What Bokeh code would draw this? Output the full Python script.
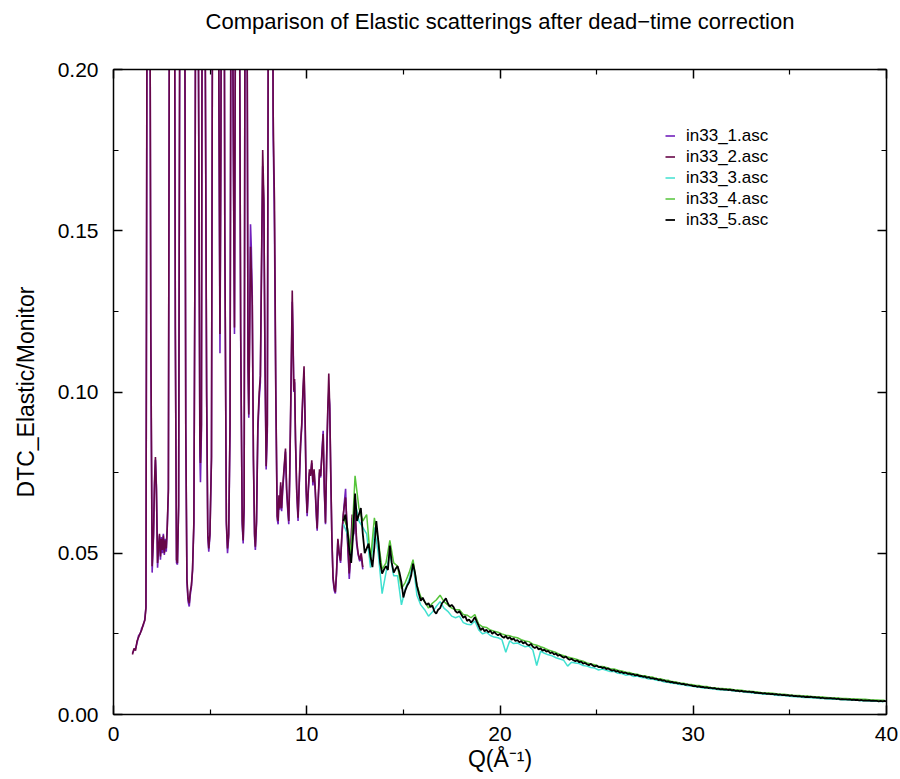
from bokeh.plotting import figure
from bokeh.models import Range1d, LinearAxis, Legend, LegendItem, FixedTicker, PrintfTickFormatter
from bokeh.embed import file_html
from bokeh.resources import INLINE

# ---------------- data ----------------
# low-Q part: in33_1 and in33_2 (nearly identical traces)
q_low = [0.98, 1.06, 1.14, 1.22, 1.30, 1.38, 1.46, 1.54, 1.62, 1.68,
         1.74, 1.80, 1.86, 1.93, 2.00, 2.07, 2.12, 2.17, 2.22, 2.28,
         2.33, 2.38, 2.43, 2.48, 2.53, 2.58, 2.63, 2.68, 2.73, 2.78,
         2.84, 2.90, 3.00, 3.12, 3.20, 3.26, 3.31, 3.37, 3.44, 3.55,
         3.66, 3.74, 3.80, 3.86, 3.92, 3.97, 4.03, 4.09, 4.16, 4.22,
         4.30, 4.40, 4.47, 4.50, 4.55, 4.62, 4.72, 4.82, 4.88, 4.93,
         4.99, 5.07, 5.15, 5.30, 5.45, 5.51, 5.56, 5.65, 5.76, 5.84,
         5.90, 5.96, 6.03, 6.10, 6.20, 6.26, 6.31, 6.42, 6.58, 6.66,
         6.71, 6.76, 6.82, 6.90, 6.96, 7.00, 7.05, 7.09, 7.13, 7.18,
         7.24, 7.30, 7.34, 7.40, 7.47, 7.54, 7.60, 7.66, 7.72, 7.78,
         7.84, 7.90, 7.96, 8.04, 8.12, 8.21, 8.26, 8.30, 8.33, 8.40,
         8.47, 8.52, 8.56, 8.60, 8.65, 8.70, 8.75, 8.82, 8.90, 8.96,
         9.02, 9.07, 9.12, 9.18, 9.25, 9.29, 9.33, 9.37, 9.42, 9.48,
         9.55, 9.60, 9.68, 9.74, 9.80, 9.86, 9.92, 9.97, 10.02, 10.08,
         10.14, 10.20, 10.26, 10.32, 10.38, 10.44, 10.50, 10.54, 10.60, 10.66,
         10.72, 10.78, 10.85, 10.91, 10.97, 11.03, 11.09, 11.14, 11.19, 11.24,
         11.30, 11.36, 11.42, 11.48, 11.54, 11.61, 11.68, 11.75, 11.82, 11.89,
         11.95, 12.01, 12.07, 12.13, 12.20, 12.27, 12.35, 12.42, 12.50, 12.58,
         12.66, 12.74, 12.82, 12.90]

in33_2 = [0.0186, 0.0205, 0.0198, 0.0228, 0.0240, 0.0252, 0.0262, 0.0280, 0.0292, 0.0330,
          0.2500, 0.4500, 0.3000, 0.1200, 0.0460, 0.0560, 0.0720, 0.0798, 0.0700, 0.0470,
          0.0520, 0.0560, 0.0490, 0.0545, 0.0510, 0.0555, 0.0500, 0.0540, 0.0515, 0.0580,
          0.0700, 0.2500, 0.5500, 0.3500, 0.1200, 0.0480, 0.0470, 0.0650, 0.2500, 0.6000,
          0.3000, 0.0900, 0.0420, 0.0360, 0.0345, 0.0380, 0.0400, 0.0450, 0.0600, 0.1500,
          0.4000, 0.2000, 0.0850, 0.0780, 0.0900, 0.3500, 0.2500, 0.1000, 0.0560, 0.0515,
          0.0560, 0.0800, 0.3000, 0.5000, 0.2000, 0.1180, 0.1800, 0.4500, 0.1500, 0.0600,
          0.0515, 0.0560, 0.0900, 0.3000, 0.1800, 0.1200, 0.2200, 0.4000, 0.1200, 0.0600,
          0.0540, 0.0650, 0.2800, 0.2500, 0.1100, 0.0930, 0.1200, 0.1450, 0.1380, 0.1270,
          0.0800, 0.0560, 0.0520, 0.0600, 0.0900, 0.1000, 0.1050, 0.1400, 0.1750, 0.1600,
          0.1100, 0.0770, 0.0900, 0.3000, 0.4500, 0.3000, 0.1880, 0.1700, 0.1590, 0.1000,
          0.0615, 0.0600, 0.0680, 0.0640, 0.0720, 0.0640, 0.0700, 0.0760, 0.0825, 0.0700,
          0.0640, 0.0600, 0.0750, 0.1000, 0.1315, 0.1150, 0.1005, 0.1040, 0.0850, 0.0700,
          0.0610, 0.0700, 0.0840, 0.0900, 0.1000, 0.1080, 0.0900, 0.0700, 0.0625, 0.0700,
          0.0760, 0.0740, 0.0788, 0.0720, 0.0760, 0.0700, 0.0620, 0.0577, 0.0680, 0.0760,
          0.0740, 0.0800, 0.0870, 0.0700, 0.0595, 0.0800, 0.0950, 0.1057, 0.0950, 0.0760,
          0.0550, 0.0425, 0.0394, 0.0380, 0.0440, 0.0545, 0.0500, 0.0477, 0.0560, 0.0620,
          0.0650, 0.0673, 0.0600, 0.0520, 0.0437, 0.0500, 0.0620, 0.0560, 0.0640, 0.0540,
          0.0500, 0.0480, 0.0500, 0.0457]

in33_1 = [0.0190, 0.0200, 0.0205, 0.0222, 0.0245, 0.0250, 0.0268, 0.0276, 0.0295, 0.0335,
          0.2400, 0.4400, 0.3100, 0.1150, 0.0440, 0.0550, 0.0700, 0.0790, 0.0710, 0.0455,
          0.0510, 0.0555, 0.0480, 0.0550, 0.0500, 0.0560, 0.0495, 0.0545, 0.0505, 0.0575,
          0.0690, 0.2450, 0.5400, 0.3450, 0.1180, 0.0470, 0.0465, 0.0640, 0.2450, 0.5900,
          0.2950, 0.0880, 0.0410, 0.0350, 0.0335, 0.0370, 0.0395, 0.0445, 0.0590, 0.1480,
          0.3950, 0.1950, 0.0800, 0.0720, 0.0880, 0.3450, 0.2450, 0.0980, 0.0550, 0.0505,
          0.0555, 0.0790, 0.2950, 0.4900, 0.1950, 0.1120, 0.1750, 0.4400, 0.1480, 0.0590,
          0.0500, 0.0550, 0.0880, 0.2950, 0.1750, 0.1180, 0.2150, 0.3950, 0.1180, 0.0590,
          0.0530, 0.0640, 0.2750, 0.2450, 0.1080, 0.0920, 0.1250, 0.1520, 0.1450, 0.1300,
          0.0790, 0.0550, 0.0510, 0.0590, 0.0880, 0.0980, 0.1030, 0.1380, 0.1700, 0.1580,
          0.1080, 0.0760, 0.0880, 0.2950, 0.4400, 0.2950, 0.1800, 0.1650, 0.1500, 0.0980,
          0.0605, 0.0590, 0.0670, 0.0635, 0.0710, 0.0630, 0.0690, 0.0750, 0.0815, 0.0690,
          0.0630, 0.0590, 0.0740, 0.0980, 0.1280, 0.1180, 0.1000, 0.1030, 0.0840, 0.0690,
          0.0600, 0.0690, 0.0830, 0.0890, 0.0990, 0.1060, 0.0890, 0.0690, 0.0615, 0.0690,
          0.0750, 0.0745, 0.0780, 0.0710, 0.0755, 0.0690, 0.0610, 0.0570, 0.0670, 0.0750,
          0.0735, 0.0810, 0.0880, 0.0690, 0.0590, 0.0790, 0.0940, 0.1000, 0.0960, 0.0750,
          0.0545, 0.0420, 0.0385, 0.0375, 0.0435, 0.0540, 0.0495, 0.0470, 0.0555, 0.0615,
          0.0660, 0.0700, 0.0590, 0.0510, 0.0420, 0.0490, 0.0610, 0.0555, 0.0630, 0.0530,
          0.0495, 0.0475, 0.0490, 0.0450]

# high-Q part: in33_5 sampled every 0.1 from Q = 11.9 to 40.0
q5_start, q5_step = 11.9, 0.1
in33_5 = [0.0600, 0.0620, 0.0575, 0.0510, 0.0470, 0.0560, 0.0685, 0.0600, 0.0620, 0.0640,
          0.0560, 0.0500, 0.0515, 0.0530, 0.0490, 0.0457, 0.0520, 0.0600, 0.0540, 0.0470,
          0.0437, 0.0450, 0.0460, 0.0448, 0.0524, 0.0470, 0.0440, 0.0452, 0.0460, 0.0440,
          0.0410, 0.0363, 0.0385, 0.0400, 0.0410, 0.0430, 0.0468, 0.0440, 0.0400, 0.0375,
          0.0353, 0.0362, 0.0350, 0.0340, 0.0345, 0.0333, 0.0338, 0.0320, 0.0313, 0.0325,
          0.0330, 0.0345, 0.0352, 0.0360, 0.0345, 0.0335, 0.0340, 0.0333, 0.0320, 0.0315,
          0.0320, 0.0310, 0.0300, 0.0305, 0.0290, 0.0295, 0.0285, 0.0292, 0.0302, 0.0288,
          0.0275, 0.0262, 0.0268, 0.0258, 0.0263, 0.0255, 0.0260, 0.0250, 0.0256, 0.0250,
          0.0246, 0.0250, 0.0242, 0.0238, 0.0244, 0.0235, 0.0240, 0.0232, 0.0236, 0.0228,
          0.0231, 0.0224, 0.0228, 0.0220, 0.0225, 0.0217, 0.0214, 0.0219, 0.0210, 0.0206,
          0.0210, 0.0202, 0.0205, 0.0198, 0.0201, 0.0195, 0.0197, 0.0190, 0.0193, 0.0186,
          0.0189, 0.0182, 0.0185, 0.0180, 0.0176, 0.0180, 0.0174, 0.0170, 0.0173, 0.0168,
          0.0165, 0.0168, 0.0162, 0.0164, 0.0158, 0.0160, 0.0156, 0.0153, 0.0157, 0.0152,
          0.0149, 0.0152, 0.0147, 0.0148, 0.0144, 0.0146, 0.0141, 0.0143, 0.0139, 0.0136,
          0.0138, 0.0133, 0.0135, 0.0130, 0.0132, 0.0128, 0.0130, 0.0126, 0.0127, 0.0124,
          0.0125, 0.0121, 0.0123, 0.0119, 0.0120, 0.0117, 0.0118, 0.0114, 0.0116, 0.0112,
          0.0113, 0.0110, 0.0111, 0.0107, 0.0108, 0.0105, 0.0106, 0.0102, 0.0103, 0.0100,
          0.0101, 0.0098, 0.0099, 0.0096, 0.0097, 0.0094, 0.0095, 0.0092, 0.0093, 0.0091,
          0.0090, 0.0088, 0.0089, 0.0086, 0.0087, 0.0085, 0.0086, 0.0083, 0.0084, 0.0082,
          0.0083, 0.0081, 0.0082, 0.0079, 0.0080, 0.0078, 0.0079, 0.0077, 0.0078, 0.0076,
          0.0077, 0.0075, 0.0076, 0.0073, 0.0074, 0.0072, 0.0073, 0.0071, 0.0072, 0.0070,
          0.0071, 0.0069, 0.0070, 0.0067, 0.0068, 0.0066, 0.0067, 0.0065, 0.0066, 0.0064,
          0.0065, 0.0063, 0.0064, 0.0062, 0.0063, 0.0061, 0.0062, 0.0060, 0.0061, 0.0059,
          0.0060, 0.0058, 0.0059, 0.0057, 0.0058, 0.0056, 0.0057, 0.0055, 0.0056, 0.0054,
          0.0055, 0.0054, 0.0055, 0.0053, 0.0054, 0.0052, 0.0053, 0.0051, 0.0052, 0.0050,
          0.0051, 0.0050, 0.0051, 0.0049, 0.0050, 0.0048, 0.0049, 0.0047, 0.0048, 0.0047,
          0.0047, 0.0046, 0.0047, 0.0045, 0.0046, 0.0045, 0.0045, 0.0044, 0.0045, 0.0043,
          0.0044, 0.0043, 0.0044, 0.0042, 0.0043, 0.0042, 0.0042, 0.0041, 0.0042, 0.0041,
          0.0042, 0.0041]

# in33_3 and in33_4 sampled every 0.2 from Q = 11.9 to 39.9
q34_start, q34_step = 11.9, 0.2
in33_3 = [0.0590, 0.0560, 0.0480, 0.0660, 0.0600, 0.0580, 0.0560, 0.0455, 0.0580, 0.0500,
          0.0375, 0.0440, 0.0500, 0.0430, 0.0430, 0.0340, 0.0390, 0.0420, 0.0470, 0.0370,
          0.0340, 0.0325, 0.0305, 0.0318, 0.0335, 0.0350, 0.0330, 0.0320, 0.0305, 0.0300,
          0.0305, 0.0285, 0.0280, 0.0278, 0.0290, 0.0262, 0.0250, 0.0255, 0.0245, 0.0240,
          0.0238, 0.0232, 0.0193, 0.0228, 0.0220, 0.0222, 0.0215, 0.0210, 0.0212, 0.0200,
          0.0152, 0.0196, 0.0190, 0.0185, 0.0182, 0.0176, 0.0172, 0.0168, 0.0150, 0.0162,
          0.0160, 0.0158, 0.0152, 0.0150, 0.0146, 0.0144, 0.0138, 0.0141, 0.0137, 0.0133,
          0.0134, 0.0128, 0.0127, 0.0122, 0.0124, 0.0118, 0.0119, 0.0115, 0.0114, 0.0110,
          0.0110, 0.0106, 0.0105, 0.0101, 0.0100, 0.0097, 0.0096, 0.0093, 0.0092, 0.0089,
          0.0088, 0.0086, 0.0085, 0.0082, 0.0083, 0.0080, 0.0079, 0.0077, 0.0077, 0.0075,
          0.0075, 0.0073, 0.0072, 0.0071, 0.0069, 0.0068, 0.0067, 0.0066, 0.0064, 0.0063,
          0.0063, 0.0062, 0.0060, 0.0059, 0.0059, 0.0057, 0.0056, 0.0055, 0.0055, 0.0053,
          0.0053, 0.0052, 0.0051, 0.0050, 0.0050, 0.0049, 0.0048, 0.0047, 0.0047, 0.0046,
          0.0046, 0.0045, 0.0044, 0.0044, 0.0043, 0.0043, 0.0042, 0.0041, 0.0041, 0.0040,
          0.0040]

in33_4 = [0.0610, 0.0580, 0.0500, 0.0740, 0.0640, 0.0600, 0.0620, 0.0480, 0.0610, 0.0540,
          0.0450, 0.0470, 0.0540, 0.0470, 0.0460, 0.0390, 0.0410, 0.0440, 0.0480, 0.0400,
          0.0365, 0.0350, 0.0330, 0.0345, 0.0355, 0.0370, 0.0350, 0.0340, 0.0330, 0.0325,
          0.0325, 0.0310, 0.0308, 0.0300, 0.0310, 0.0280, 0.0272, 0.0270, 0.0262, 0.0258,
          0.0255, 0.0250, 0.0246, 0.0244, 0.0240, 0.0238, 0.0232, 0.0228, 0.0226, 0.0218,
          0.0215, 0.0210, 0.0206, 0.0200, 0.0196, 0.0192, 0.0186, 0.0182, 0.0178, 0.0175,
          0.0172, 0.0168, 0.0165, 0.0160, 0.0157, 0.0154, 0.0150, 0.0149, 0.0146, 0.0142,
          0.0141, 0.0137, 0.0135, 0.0131, 0.0130, 0.0126, 0.0125, 0.0121, 0.0120, 0.0116,
          0.0116, 0.0112, 0.0111, 0.0107, 0.0106, 0.0102, 0.0101, 0.0098, 0.0097, 0.0094,
          0.0093, 0.0091, 0.0090, 0.0087, 0.0087, 0.0084, 0.0083, 0.0081, 0.0081, 0.0079,
          0.0079, 0.0077, 0.0076, 0.0075, 0.0073, 0.0072, 0.0071, 0.0070, 0.0068, 0.0067,
          0.0067, 0.0066, 0.0064, 0.0063, 0.0063, 0.0061, 0.0060, 0.0059, 0.0059, 0.0057,
          0.0057, 0.0056, 0.0055, 0.0054, 0.0054, 0.0053, 0.0052, 0.0051, 0.0051, 0.0050,
          0.0050, 0.0049, 0.0048, 0.0048, 0.0047, 0.0047, 0.0046, 0.0045, 0.0045, 0.0044,
          0.0044]

x_ticks = [0, 10, 20, 30, 40]
x_minor = [5, 15, 25, 35]
y_ticks = [0.0, 0.05, 0.10, 0.15, 0.20]
y_minor = [0.025, 0.075, 0.125, 0.175]

title_text = "Comparison of Elastic scatterings after dead\u2212time correction"
labels = ["in33_1.asc", "in33_2.asc", "in33_3.asc", "in33_4.asc", "in33_5.asc"]
colors = ["#7221BC", "#670748", "#40E0D0", "#55C43A", "#000000"]

q5 = [round(q5_start + q5_step * i, 2) for i in range(len(in33_5))]
q34 = [round(q34_start + q34_step * i, 2) for i in range(len(in33_3))]

# ---------------- figure ----------------
FONT = "Liberation Sans"
p = figure(width=900, height=779, output_backend="svg", toolbar_location=None,
           x_range=Range1d(0, 40), y_range=Range1d(0, 0.2),
           min_border_left=113, min_border_right=14, min_border_top=69, min_border_bottom=65,
           background_fill_color="white", border_fill_color="white")
p.title.text = ""

p.xgrid.visible = False
p.ygrid.visible = False
p.outline_line_color = "black"
p.outline_line_width = 1

r1 = p.line(q_low, in33_1, line_color=colors[0], line_width=1.6)
r2 = p.line(q_low, in33_2, line_color=colors[1], line_width=1.6)
r3 = p.line(q34, in33_3, line_color=colors[2], line_width=1.5)
r4 = p.line(q34, in33_4, line_color=colors[3], line_width=1.5)
r5 = p.line(q5, in33_5, line_color=colors[4], line_width=1.8)

bottom_ax = p.below[0]
left_ax = p.left[0]
top_ax = LinearAxis()
right_ax = LinearAxis()
p.add_layout(top_ax, "above")
p.add_layout(right_ax, "right")

for ax in [bottom_ax, top_ax]:
    ax.ticker = FixedTicker(ticks=x_ticks, minor_ticks=x_minor)
for ax in [left_ax, right_ax]:
    ax.ticker = FixedTicker(ticks=y_ticks, minor_ticks=y_minor)
    ax.formatter = PrintfTickFormatter(format="%.2f")

for ax in [bottom_ax, left_ax, top_ax, right_ax]:
    ax.axis_line_color = "black"
    ax.axis_line_width = 1.5
    ax.major_tick_in = 9
    ax.major_tick_out = 0
    ax.minor_tick_in = 5
    ax.minor_tick_out = 0
    ax.major_tick_line_color = "black"
    ax.major_tick_line_width = 1.5
    ax.minor_tick_line_color = "black"
    ax.minor_tick_line_width = 1.2
    ax.major_label_text_font = FONT
    ax.major_label_text_font_size = "21px"
    ax.major_label_text_color = "black"
    ax.axis_label_text_font = FONT
    ax.axis_label_text_font_size = "23px"
    ax.axis_label_text_font_style = "normal"
    ax.axis_label_text_color = "black"

for ax in [top_ax, right_ax]:
    ax.major_label_text_font_size = "0px"
    ax.major_label_text_color = None
    ax.major_label_standoff = 0

# chart title, drawn as the label of the top axis (centered over the frame)
top_ax.axis_label = title_text
top_ax.axis_label_text_font_size = "22px"
top_ax.axis_label_standoff = 36

bottom_ax.major_label_standoff = 12
left_ax.major_label_standoff = 15
bottom_ax.axis_label = "Q(\u00c5\u207b\u00b9)"
bottom_ax.axis_label_standoff = 2
left_ax.axis_label = "DTC_Elastic/Monitor"
left_ax.axis_label_standoff = 16

legend = Legend(items=[LegendItem(label=l, renderers=[r]) for l, r in zip(labels, [r1, r2, r3, r4, r5])],
                location=(552, 484))
legend.border_line_color = None
legend.background_fill_alpha = 0
legend.padding = 0
legend.margin = 0
legend.spacing = 0
legend.label_height = 21
legend.glyph_height = 21
legend.glyph_width = 10
legend.label_standoff = 11
legend.label_text_font = FONT
legend.label_text_font_size = "17px"
legend.label_text_color = "black"
p.add_layout(legend)

open("out.html", "w").write(file_html(p, INLINE))
